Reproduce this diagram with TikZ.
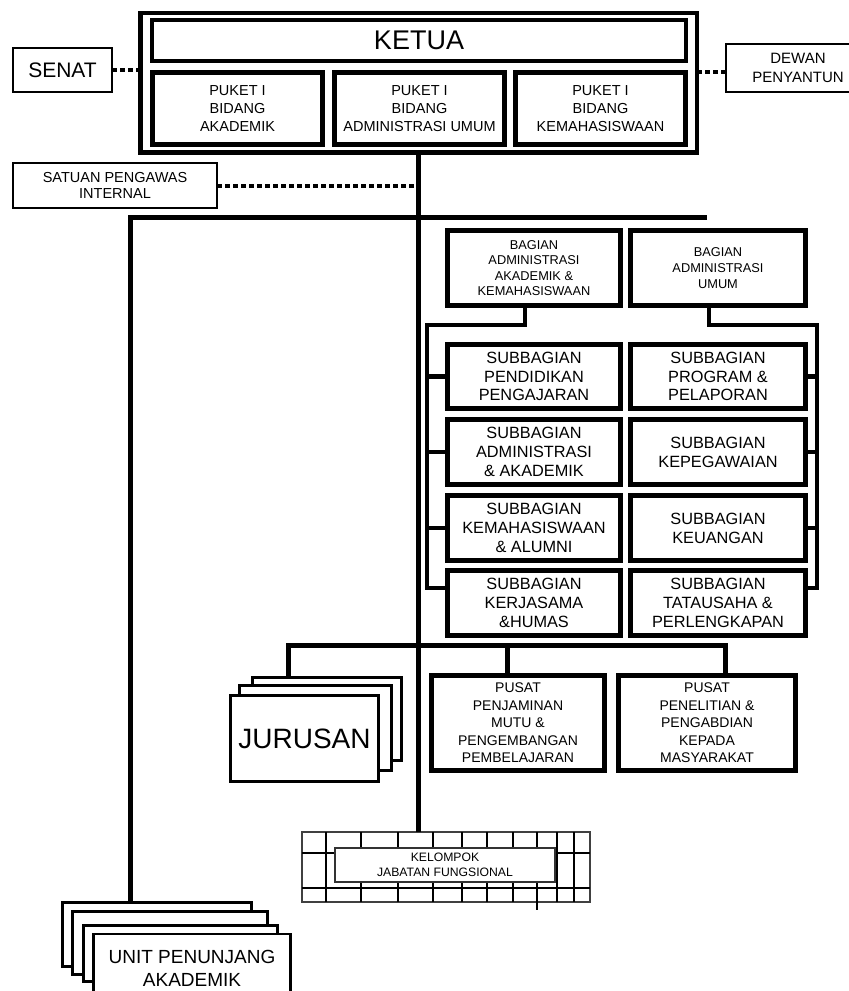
\documentclass[tikz,border=0pt]{standalone}
\usepackage{fontspec}
\setmainfont{Liberation Sans}
\usepackage{tikz}
\usetikzlibrary{calc,positioning}

\begin{document}
\begin{tikzpicture}[x=1pt, y=-1pt,
					every node/.style={align=center, inner sep=0pt, outer sep=0pt},
					tebal/.style={draw, line width=4.5pt, fill=white},
					tipis/.style={draw, line width=2.6pt, fill=white},
					garis/.style={line width=5pt},
					kurung/.style={line width=4.6pt},
					putus/.style={line width=4pt, dash pattern=on 5pt off 3pt},
					huruf ketua/.style={font=\fontsize{27}{30}\selectfont},
					huruf senat/.style={font=\fontsize{21}{24}\selectfont},
					huruf puket/.style={font=\fontsize{14.5}{18.3}\selectfont},
					huruf dewan/.style={font=\fontsize{15}{18.3}\selectfont},
					huruf spi/.style={font=\fontsize{14.5}{16.7}\selectfont},
					huruf bagian/.style={font=\fontsize{12.8}{15.6}\selectfont},
					huruf sub/.style={font=\fontsize{16.3}{18.8}\selectfont},
					huruf pusat/.style={font=\fontsize{14}{17.5}\selectfont},
					huruf kjf/.style={font=\fontsize{12.2}{15.3}\selectfont},
					huruf jur/.style={font=\fontsize{28}{32}\selectfont},
					huruf unit/.style={font=\fontsize{19}{23}\selectfont}
				]
				\useasboundingbox (0,0) rectangle (849,991);
				\clip (0,0) rectangle (849,991);
				
				% pimpinan
				\node[tebal, minimum width=556.5pt, minimum height=139.5pt] (pimp) at (418.75,82.75) {};
				\node[tebal, huruf ketua, minimum width=534pt, minimum height=41pt] (ketua) at (419,40.5) {KETUA};
				\node[tebal, huruf puket, minimum width=170pt, minimum height=72pt] (pk1) at (237.5,108.5) {PUKET I\\BIDANG\\AKADEMIK};
				\node[tebal, huruf puket, minimum width=170pt, minimum height=72pt] (pk2) at (419.5,108.5) {PUKET I\\BIDANG\\ADMINISTRASI UMUM};
				\node[tebal, huruf puket, minimum width=170pt, minimum height=72pt] (pk3) at (600.5,108.5) {PUKET I\\BIDANG\\KEMAHASISWAAN};
				
				\node[tipis, huruf senat, minimum width=99pt, minimum height=44pt] (senat) at (62.5,70) {SENAT};
				\node[tipis, huruf dewan, minimum width=144pt, minimum height=48pt] (dewan) at (798,68) {DEWAN\\PENYANTUN};
				\node[tipis, huruf spi, minimum width=204pt, minimum height=45pt] (spi) at (115,185.5) {SATUAN PENGAWAS\\INTERNAL};
				
				% bagian
				\node[tebal, huruf bagian, minimum width=173pt, minimum height=75pt] (baak) at (534,268) {BAGIAN\\ADMINISTRASI\\AKADEMIK \&\\KEMAHASISWAAN};
				\node[tebal, huruf bagian, minimum width=175pt, minimum height=75pt] (bau) at (718,268) {BAGIAN\\ADMINISTRASI\\UMUM};
				
				% subbagian
				\node[tebal, huruf sub, minimum width=173pt, minimum height=64pt] (sb1) at (534,376.5) {SUBBAGIAN\\PENDIDIKAN\\PENGAJARAN};
				\node[tebal, huruf sub, minimum width=173pt, minimum height=65pt] (sb2) at (534,452) {SUBBAGIAN\\ADMINISTRASI\\\& AKADEMIK};
				\node[tebal, huruf sub, minimum width=173pt, minimum height=65pt] (sb3) at (534,528) {SUBBAGIAN\\KEMAHASISWAAN\\\& ALUMNI};
				\node[tebal, huruf sub, minimum width=173pt, minimum height=65pt] (sb4) at (534,603) {SUBBAGIAN\\KERJASAMA\\\&HUMAS};
				\node[tebal, huruf sub, minimum width=175pt, minimum height=64pt] (sb5) at (718,376.5) {SUBBAGIAN\\PROGRAM \&\\PELAPORAN};
				\node[tebal, huruf sub, minimum width=175pt, minimum height=65pt] (sb6) at (718,452) {SUBBAGIAN\\KEPEGAWAIAN};
				\node[tebal, huruf sub, minimum width=175pt, minimum height=65pt] (sb7) at (718,528) {SUBBAGIAN\\KEUANGAN};
				\node[tebal, huruf sub, minimum width=175pt, minimum height=65pt] (sb8) at (718,603) {SUBBAGIAN\\TATAUSAHA \&\\PERLENGKAPAN};
				
				% pusat
				\node[tebal, huruf pusat, minimum width=173pt, minimum height=95pt] (ps1) at (518,723) {PUSAT\\PENJAMINAN\\MUTU \&\\PENGEMBANGAN\\PEMBELAJARAN};
				\node[tebal, huruf pusat, minimum width=177pt, minimum height=95pt] (ps2) at (707,723) {PUSAT\\PENELITIAN \&\\PENGABDIAN\\KEPADA\\MASYARAKAT};
				
				% jurusan
				\node[tipis, minimum width=149pt, minimum height=83pt] (jur3) at (327,719) {};
				\node[tipis, minimum width=152pt, minimum height=85pt] (jur2) at (315.5,728) {};
				\node[tipis, huruf jur, minimum width=148pt, minimum height=86pt] (jur1) at (304.5,738.5) {JURUSAN};
				
				% unit penunjang
				\node[tipis, minimum width=189pt, minimum height=64pt] (un1) at (157,934.5) {};
				\node[tipis, minimum width=195pt, minimum height=63pt] (un2) at (170,943) {};
				\node[tipis, minimum width=194pt, minimum height=56pt] (un3) at (180.5,953.5) {};
				\node[tipis, huruf unit, minimum width=197pt, minimum height=68pt] (un4) at (192,968) {UNIT PENUNJANG\\AKADEMIK};
				
				% kelompok jabatan fungsional
				\node[draw=black!75, line width=2pt, minimum width=288pt, minimum height=70pt] (jf) at (446,867) {};
				\foreach \gx in {326,361,398,433,462,487,513,537,557,574}
					\draw[line width=2.5pt] (\gx,0 |- jf.north) -- (\gx,0 |- jf.south);
				\foreach \gy in {853,888}
					\draw[line width=2.5pt] (jf.west |- 0,\gy) -- (jf.east |- 0,\gy);
				\draw[line width=2.5pt] (537,0 |- jf.south) -- ++(0,8);
				\node[draw=black!80, line width=2pt, fill=white, huruf kjf, minimum width=220pt, minimum height=34pt] (kjf) at (445,865) {KELOMPOK\\JABATAN FUNGSIONAL};
				
				% garis
				\draw[putus] (senat.east) -- (senat.east -| pimp.west);
				\draw[putus] ([yshift=-4pt]dewan.west) -- ([yshift=-4pt]dewan.west -| pimp.east);
				\draw[putus] (spi.east) -- (spi.east -| pimp.south);
				\draw[garis] (pimp.south) -- (pimp.south |- jf.north);
				
				\coordinate (bk) at (130,217);
				\coordinate (bn) at (707,217);
				\draw[garis] (bn) -- (bk) -- (bk |- un1.north);
				
				\coordinate (kl) at (427,325);
				\coordinate (kr) at (817,325);
				\draw[kurung] ([xshift=-9pt]baak.south) |- (kl) |- ([yshift=15pt]sb4.west);
				\draw[kurung] ([xshift=-9pt]bau.south) |- (kr) |- ([yshift=15pt]sb8.east);
				\foreach \s in {sb1,sb2,sb3}
					\draw[kurung] (\s.west -| kl) -- (\s.west);
				\foreach \s in {sb5,sb6,sb7}
					\draw[kurung] (\s.east -| kr) -- (\s.east);
				
				\coordinate (pb) at (288,645);
				\draw[garis] (pb |- jur3.north) -- (pb) -| ([xshift=18pt]ps2.north);
				\draw[garis] ([xshift=-11pt]ps1.north) -- ([xshift=-11pt]ps1.north |- pb);
			\end{tikzpicture}
\end{document}
